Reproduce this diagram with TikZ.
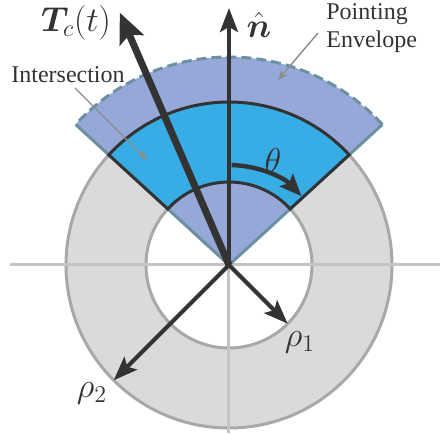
\documentclass[tikz,border=0pt]{standalone}
\usepackage{amsmath}
\usepackage{bm}
\usepackage[no-math]{fontspec}
\setmainfont{Liberation Serif}
\usetikzlibrary{arrows.meta}
\definecolor{envfill}{RGB}{149,168,216}
\definecolor{envedge}{RGB}{106,144,162}
\definecolor{interfill}{RGB}{56,172,228}
\definecolor{darkline}{RGB}{51,51,51}
\definecolor{ringfill}{RGB}{218,218,218}
\definecolor{ringedge}{RGB}{168,168,168}
\definecolor{axiscol}{RGB}{196,196,196}
\definecolor{notecol}{RGB}{140,140,140}
\begin{document}
\begin{tikzpicture}[x=0.5pt,y=0.5pt,
  mathlabel/.style={font=\fontsize{17.28}{20}\selectfont, inner sep=0pt, text=darkline},
  textlabel/.style={font=\fontsize{12}{14}\selectfont, inner sep=0pt, text=darkline},
  ringline/.style={ringedge, line width=1.5pt},
  axisline/.style={axiscol, line width=1.5pt},
  envline/.style={envedge, line width=1.5pt},
  notearrow/.style={notecol, line width=0.7pt, -{Stealth[length=5pt,width=4pt]}},
  vecarrow/.style={darkline, line width=2pt, -{Stealth[length=12pt,width=9pt,inset=2.5pt]}}]
\useasboundingbox (-229,-169) rectangle (211,265);
% ring
\fill[ringfill] (0,0) circle (163);
\draw[ringline] (0,0) circle (163);
\fill[white] (0,0) circle (83);
\draw[ringline] (0,0) circle (83);
% axes
\coordinate (O) at (0,0);
\coordinate (axL) at (-219,0);
\coordinate (axR) at (211,0);
\coordinate (axB) at (0,-168);
\draw[axisline] (axL) -- (axR);
\draw[axisline] (O) -- (axB);
% pointing envelope
\fill[envfill] (O) -- (42.5:208) arc[start angle=42.5, end angle=137.5, radius=208] -- cycle;
\draw[envline, line join=miter] (137.5:208) -- (O) -- (42.5:208);
\draw[envline, dash pattern=on 5pt off 2.5pt] (42.5:208) arc[start angle=42.5, end angle=137.5, radius=208];
% intersection
\filldraw[fill=interfill, draw=darkline, line width=1.5pt] (42.5:83) -- (42.5:163) arc[start angle=42.5, end angle=137.5, radius=163] -- (137.5:83) arc[start angle=137.5, end angle=42.5, radius=83] -- cycle;
% theta arc
\draw[darkline, line width=2.2pt, -{Stealth[length=11pt,width=9pt,inset=2pt]}] (88.5:100) arc[start angle=88.5, end angle=43.5, radius=100];
% vectors
\coordinate (ntip) at (0,257);
\coordinate (Ttip) at (113.4:275);
\coordinate (r1tip) at (-45:83);
\coordinate (r2tip) at (225:163);
\draw[vecarrow, line width=1.8pt] (O) -- (ntip);
\draw[darkline, line width=3.5pt, -{Stealth[length=15pt,width=13pt,inset=3pt]}] (O) -- (Ttip);
\draw[vecarrow] (O) -- (r1tip);
\draw[vecarrow] (O) -- (r2tip);
% labels
\node[mathlabel] (Tlab) at (-153,242) {$\bm{T}_c(t)$};
\node[mathlabel] (nlab) at (30,240) {$\hat{\bm{n}}$};
\node[mathlabel] (thlab) at (44,104) {$\theta$};
\node[mathlabel] (r1lab) at (71,-77) {$\rho_1$};
\node[mathlabel] (r2lab) at (-137,-128) {$\rho_2$};
\node[textlabel, anchor=west, align=left] (envlab) at (97,237) {Pointing\\Envelope};
\node[textlabel] (intlab) at (-161,190) {Intersection};
% annotation arrows
\coordinate (envA) at (89,232);
\coordinate (envB) at (49,185);
\coordinate (intA) at (-154,177);
\coordinate (intB) at (-82,105);
\draw[notearrow] (envA) -- (envB);
\draw[notearrow] (intA) -- (intB);
\end{tikzpicture}
\end{document}
